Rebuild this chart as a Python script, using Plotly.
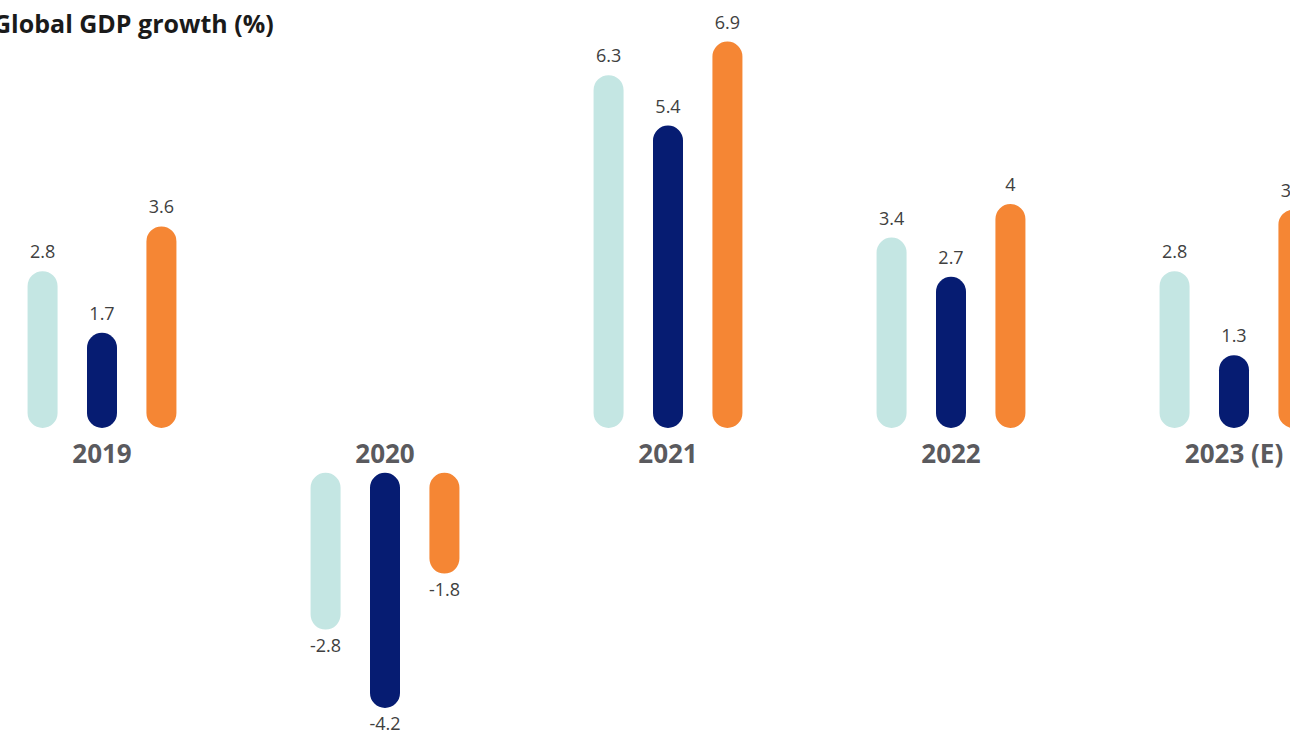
import plotly.graph_objects as go

# ---- data ----
categories = ["2019", "2020", "2021", "2022", "2023 (E)"]
series_a = [2.8, -2.8, 6.3, 3.4, 2.8]   # light teal
series_b = [1.7, -4.2, 5.4, 2.7, 1.3]   # navy
series_c = [3.6, -1.8, 6.9, 4.0, 3.9]   # orange
title_text = "Global GDP growth (%)"

# ---- style ----
colors = ["#c4e6e3", "#061c72", "#f58634"]
offsets = [-0.21, 0.0, 0.21]
BAR_W = 0.106
GAP = 0.80          # gap below zero line where the year labels sit
W, H = 1290, 731
PX_PER_UNIT = 56.0
ZERO_PX = 428
X0_PX = 102
GROUP_PX = 283

fig = go.Figure()

all_series = [series_a, series_b, series_c]
for s, col, off in zip(all_series, colors, offsets):
    xs = [i + off for i in range(len(categories))]
    starts = [0.0 if v >= 0 else -GAP for v in s]
    ends = [v if v >= 0 else v - GAP for v in s]
    fig.add_trace(go.Bar(x=xs, base=starts, y=[e - b for e, b in zip(ends, starts)],
                         width=BAR_W,
                         marker=dict(color=col, line=dict(width=0), cornerradius=15),
                         hoverinfo="skip", showlegend=False))
    # value labels
    pos_x = [x for x, v in zip(xs, s) if v >= 0]
    pos_y = [e for e, v in zip(ends, s) if v >= 0]
    pos_t = [f"{v:g}" for v in s if v >= 0]
    neg_x = [x for x, v in zip(xs, s) if v < 0]
    neg_y = [e for e, v in zip(ends, s) if v < 0]
    neg_t = [f"{v:g}" for v in s if v < 0]
    for tx, ty, tt, tp in [(pos_x, pos_y, pos_t, "top center"), (neg_x, neg_y, neg_t, "bottom center")]:
        fig.add_trace(go.Scatter(x=tx, y=ty, text=tt, mode="markers+text", textposition=tp,
                                 marker=dict(size=12, opacity=0),
                                 textfont=dict(family="Open Sans", size=18, color="#404040"),
                                 hoverinfo="skip", showlegend=False))

# category labels
fig.add_trace(go.Scatter(x=list(range(len(categories))), y=[-0.5] * len(categories),
                         text=[f"<b>{c}</b>" for c in categories], mode="text",
                         textposition="middle center",
                         textfont=dict(family="Open Sans", size=26, color="#5a5a5e"),
                         hoverinfo="skip", showlegend=False))

x_lo = -X0_PX / GROUP_PX
x_hi = (W - X0_PX) / GROUP_PX
y_hi = ZERO_PX / PX_PER_UNIT
y_lo = -(H - ZERO_PX) / PX_PER_UNIT

fig.update_layout(
    width=W, height=H,
    margin=dict(l=0, r=0, t=0, b=0),
    paper_bgcolor="white", plot_bgcolor="white",
    barmode="overlay",
    xaxis=dict(range=[x_lo, x_hi], visible=False, fixedrange=True),
    yaxis=dict(range=[y_lo, y_hi], visible=False, fixedrange=True),
    annotations=[dict(text=f"<b>{title_text}</b>", x=-9 / W, y=1 - 4 / H, xref="paper", yref="paper",
                      xanchor="left", yanchor="top", showarrow=False,
                      font=dict(family="Open Sans", size=25, color="#1a1a1a"))],
)

fig.write_html("out.html", config={"displayModeBar": False},
               post_script="document.body.style.margin='0';document.body.style.overflow='hidden';")
